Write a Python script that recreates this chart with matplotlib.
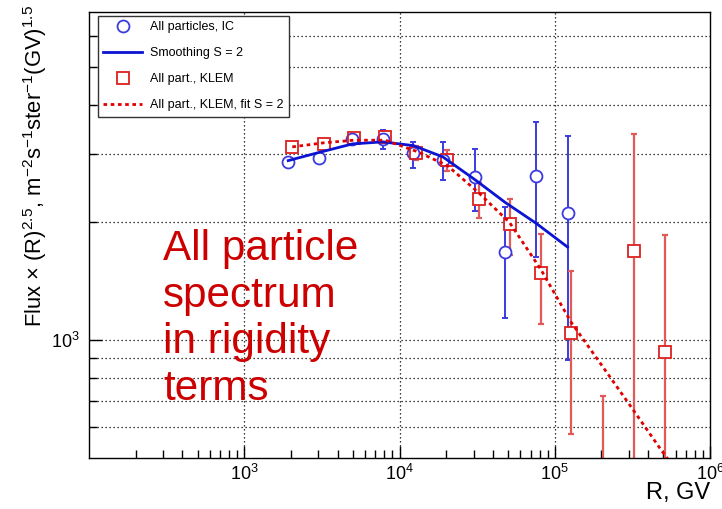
import matplotlib
matplotlib.use('Agg')
import matplotlib.pyplot as plt
from matplotlib.ticker import FixedLocator, NullFormatter, FixedFormatter
import numpy as np

plt.rcParams['font.family'] = ['Liberation Sans', 'DejaVu Sans']
plt.rcParams['mathtext.fontset'] = 'custom'
plt.rcParams['mathtext.rm'] = 'Liberation Sans'
plt.rcParams['mathtext.it'] = 'Liberation Sans:italic'
plt.rcParams['mathtext.bf'] = 'Liberation Sans:bold'
plt.rcParams['mathtext.default'] = 'regular'

# ---- data ----
ic_r = [1.92e3, 3.05e3, 4.98e3, 7.8e3, 1.23e4, 1.9e4, 3.05e4, 4.8e4, 7.6e4, 1.21e5]
ic_flux = [2856, 2925, 3270, 3270, 3010, 2895, 2610, 1680, 2625, 2109]
ic_lo = [2820, 2890, 3220, 3085, 2760, 2565, 2136, 1142, 1635, 891]
ic_hi = [2890, 2960, 3320, 3440, 3220, 3220, 3085, 2188, 3605, 3334]

smooth_r = [1.92e3, 3.05e3, 4.98e3, 7.8e3, 1.23e4, 1.9e4, 3.05e4, 4.8e4, 7.6e4, 1.21e5]
smooth_flux = [2878, 3021, 3175, 3213, 3143, 2942, 2575, 2249, 1989, 1730]

klem_r = [2.04e3, 3.25e3, 5.07e3, 8.09e3, 1.283e4, 2.03e4, 3.24e4, 5.13e4, 8.13e4,
          1.28e5, 2.04e5, 3.24e5, 5.13e5]
klem_flux = [3120, 3170, 3281, 3302, 3010, 2880, 2299, 1976, 1488, 1042, 430, 1690, 934]
klem_lo = [3060, 3110, 3220, 3200, 2890, 2704, 2047, 1656, 1103, 576, 300, 100, 100]
klem_hi = [3180, 3230, 3340, 3400, 3130, 3058, 2515, 2299, 1871, 1502, 721, 3368, 1856]

fit_r = [2.04e3, 3.25e3, 5.07e3, 8.09e3, 1.283e4, 2.03e4, 3.24e4, 5.13e4, 8.13e4,
         1.28e5, 1.95e5, 3.05e5, 4.88e5, 5.52e5]
fit_flux = [3120, 3195, 3245, 3245, 3040, 2796, 2381, 1996, 1517, 1109, 877, 682, 522, 489]

x_major = [1e3, 1e4, 1e5, 1e6]
x_labels = ['$10^{3}$', '$10^{4}$', '$10^{5}$', '$10^{6}$']
y_major = [1e3]
y_minor = [600, 700, 800, 900, 2000, 3000, 4000, 5000, 6000]

blue_mk = '#3b3be0'
blue_ln = '#0a14d2'
red_mk = '#dc2020'
red_err = '#e05a5a'
red_ln = '#e00000'

fig = plt.figure(figsize=(7.22, 5.09), dpi=100)
ax = fig.add_axes([89/722, 51/509, 621/722, 446/509])
ax.set_xscale('log')
ax.set_yscale('log')
ax.set_xlim(100, 1e6)
ax.set_ylim(500, 6900)

# grid
for v in y_minor + y_major:
    ax.axhline(v, color='black', lw=0.9, ls=(0, (1, 2.2)), zorder=1)
for v in x_major[:-1]:
    ax.axvline(v, color='black', lw=0.9, ls=(0, (1, 2.2)), zorder=1)

# error bars
ic = np.array(ic_flux)
ax.errorbar(ic_r, ic_flux, yerr=[ic - np.array(ic_lo), np.array(ic_hi) - ic],
            fmt='none', ecolor=blue_mk, elinewidth=1.4, capsize=2.5, capthick=1.4, zorder=2)
kl = np.array(klem_flux)
ax.errorbar(klem_r, klem_flux, yerr=[kl - np.array(klem_lo), np.array(klem_hi) - kl],
            fmt='none', ecolor=red_err, elinewidth=1.6, capsize=2.5, capthick=1.6, zorder=2)

# marker masks (hide error bars inside hollow markers)
ax.plot(ic_r, ic_flux, 'o', ms=8.6, mfc='white', mec='none', zorder=2.5)
ax.plot(klem_r, klem_flux, 's', ms=8.6, mfc='white', mec='none', zorder=2.5)

h_ic, = ax.plot(ic_r, ic_flux, 'o', ms=8.6, mfc='none', mec=blue_mk, mew=1.3, zorder=3,
                label='All particles, IC')
h_kl, = ax.plot(klem_r, klem_flux, 's', ms=8.6, mfc='none', mec=red_mk, mew=1.3, zorder=3,
                label='All part., KLEM')
h_sm, = ax.plot(smooth_r, smooth_flux, '-', color=blue_ln, lw=2.0, zorder=4,
                label='Smoothing S = 2')
h_fit, = ax.plot(fit_r, fit_flux, color=red_ln, lw=2.0, ls=(0, (1.3, 1.3)), zorder=4,
                 label='All part., KLEM, fit S = 2')

# ticks
ax.xaxis.set_major_locator(FixedLocator(x_major))
ax.xaxis.set_major_formatter(FixedFormatter(x_labels))
xmin = [m * 10**d for d in (2, 3, 4, 5) for m in range(2, 10)]
ax.xaxis.set_minor_locator(FixedLocator(xmin))
ax.xaxis.set_minor_formatter(NullFormatter())
ax.yaxis.set_major_locator(FixedLocator(y_major))
ax.yaxis.set_major_formatter(FixedFormatter(['$10^{3}$']))
ax.yaxis.set_minor_locator(FixedLocator(y_minor))
ax.yaxis.set_minor_formatter(NullFormatter())
ax.tick_params(which='both', direction='in', top=False, right=False, color='black', width=1)
ax.tick_params(which='major', length=9, labelsize=13)
ax.tick_params(which='minor', length=5.5)
ax.tick_params(axis='x', which='major', pad=4)
ax.tick_params(axis='y', which='major', pad=7)
for s in ax.spines.values():
    s.set_linewidth(1.0)

leg = ax.legend(handles=[h_ic, h_sm, h_kl, h_fit], loc='upper left',
                bbox_to_anchor=(0.014, 0.992), borderaxespad=0, fontsize=9,
                frameon=True, fancybox=False, edgecolor='#333333', framealpha=1,
                handlelength=3.1, handletextpad=0.6, labelspacing=1.12, borderpad=0.45)
leg.get_frame().set_linewidth(1.0)
leg.set_zorder(10)

fig.text(163/722, 1 - 400/509, 'All particle\nspectrum\nin rigidity\nterms',
         color='#cc0000', fontsize=30.4, ha='left', va='baseline', linespacing=1.21)

fig.text(35/722, 1 - 5/509,
         'Flux × (R)$^{2.5}$, m$^{-2}$s$^{-1}$ster$^{-1}$(GV)$^{1.5}$',
         rotation=90, ha='center', va='top', fontsize=15.8)
fig.text(710/722, 1 - 493/509, 'R, GV', ha='right', va='center', fontsize=17)

fig.savefig('out.png', dpi=100)
